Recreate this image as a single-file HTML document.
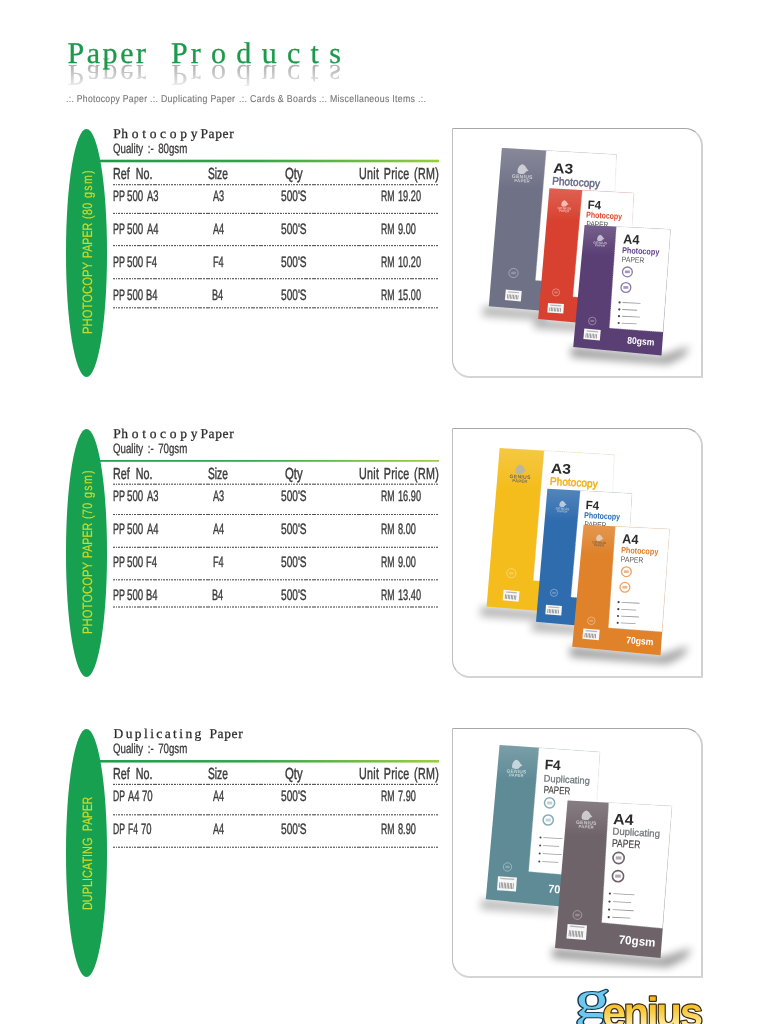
<!DOCTYPE html>
<html lang="en"><head><meta charset="utf-8"><title>Paper Products</title>
<style>
html,body{margin:0;padding:0;background:#fff}
body{width:768px;height:1024px;position:relative;overflow:hidden;font-family:"Liberation Sans",sans-serif;text-rendering:geometricPrecision}
.t{position:absolute;white-space:pre;line-height:1;transform-origin:0 0;-webkit-text-stroke:0.3px currentColor}
.ell{position:absolute;left:65.8px;width:41.6px;height:248px;border-radius:50%;background:#16a04f}
.v{position:absolute;width:0;height:0;font-size:13.5px;line-height:1;color:#cbdb2c;transform-origin:0 0;transform:rotate(-90deg);-webkit-text-stroke:0.2px currentColor}
.v span{position:absolute;top:0;white-space:pre;transform-origin:0 0}
.gl{position:absolute;left:100px;width:339.2px;height:2px;background:linear-gradient(90deg,#1b9b4c 0%,#2ea648 45%,#9ccb3b 100%)}
.dl{position:absolute;left:113px;width:326px;height:1px;background:repeating-linear-gradient(90deg,#555 0,#555 1.75px,transparent 1.75px,transparent 2.65px)}
.box{position:absolute;left:452px;width:248px;height:247px;border-style:solid;border-width:1px 2px 2px 1px;border-color:#a6a6a6 #d0d0d0 #d4d4d4 #bebebe;border-radius:0 18px 0 18px;background:#fff}
.art{position:absolute;left:0;top:0}
.fade{position:absolute;left:60px;top:64px;width:290px;height:28px;background:linear-gradient(180deg,rgba(255,255,255,.1) 0,rgba(255,255,255,.35) 30%,rgba(255,255,255,.72) 72%,rgba(255,255,255,.85) 100%)}
.f0::first-letter{letter-spacing:.6px}
.f2::first-letter{letter-spacing:3px}
.s{font-family:"Liberation Serif",serif}
</style></head><body>
<div aria-hidden="true" class="t s" style="left:67.40px;top:39.00px;font-size:30px;color:#a4a4a4;letter-spacing:2.600px;transform-origin:0 24.9px;transform:scaleY(-1);-webkit-text-stroke:0;">Paper</div>
<div aria-hidden="true" class="t f2 s" style="left:171.10px;top:39.00px;font-size:30px;color:#a4a4a4;letter-spacing:10.300px;transform-origin:0 24.9px;transform:scaleY(-1);-webkit-text-stroke:0;">Products</div>
<div class="fade"></div>
<div class="t s" style="left:67.40px;top:39.00px;font-size:30px;color:#1c9a4c;letter-spacing:2.600px;">Paper</div>
<div class="t f2 s" style="left:171.10px;top:39.00px;font-size:30px;color:#1c9a4c;letter-spacing:10.300px;">Products</div>
<div class="t" style="left:66.30px;top:95.00px;font-size:10px;color:#757575;letter-spacing:0.350px;transform:scaleX(0.8605);-webkit-text-stroke:0.12px currentColor;">.:. Photocopy Paper</div>
<div class="t" style="left:150.40px;top:95.00px;font-size:10px;color:#757575;letter-spacing:0.350px;transform:scaleX(0.8758);-webkit-text-stroke:0.12px currentColor;">.:. Duplicating Paper</div>
<div class="t" style="left:239.10px;top:95.00px;font-size:10px;color:#757575;letter-spacing:0.350px;transform:scaleX(0.8819);-webkit-text-stroke:0.12px currentColor;">.:. Cards &amp; Boards</div>
<div class="t" style="left:319.30px;top:95.00px;font-size:10px;color:#757575;letter-spacing:0.350px;transform:scaleX(0.8775);-webkit-text-stroke:0.12px currentColor;">.:. Miscellaneous Items .:.</div>
<div class="ell" style="top:128.7px"></div>
<div class="v" style="left:81.00px;top:333.3px"><span style="left:-0.84px;transform:scaleX(0.8369)">PHOTOCOPY</span><span style="left:74.81px;transform:scaleX(0.7863)">PAPER</span><span style="left:113.60px;letter-spacing:0.63px;transform:scaleX(0.7800)">(80</span><span style="left:134.70px;letter-spacing:1.79px;transform:scaleX(0.7800)">gsm)</span></div>
<div class="t f0 s" style="left:113.20px;top:127.00px;font-size:13.5px;color:#2a2a2a;letter-spacing:3.700px;-webkit-text-stroke:0.25px currentColor;">Photocopy</div>
<div class="t s" style="left:200.50px;top:127.00px;font-size:13.5px;color:#2a2a2a;letter-spacing:0.600px;-webkit-text-stroke:0.25px currentColor;">Paper</div>
<div class="t" style="left:113.20px;top:142.00px;font-size:13.5px;color:#3a3a3a;word-spacing:2.50px;transform:scaleX(0.7193);">Quality :- 80gsm</div>
<div class="gl" style="top:159px;height:1px;opacity:0.30"></div>
<div class="gl" style="top:160px;height:1px;opacity:1.00"></div>
<div class="gl" style="top:161px;height:1px;opacity:1.00"></div>
<div class="gl" style="top:162px;height:1px;opacity:0.30"></div>
<div class="t" style="left:112.60px;top:167.00px;font-size:16px;color:#3a3a3a;transform:scaleX(0.6714);-webkit-text-stroke:0.45px currentColor;">Ref  No.</div>
<div class="t" style="left:208.40px;top:167.00px;font-size:16px;color:#3a3a3a;transform:scaleX(0.6394);-webkit-text-stroke:0.45px currentColor;">Size</div>
<div class="t" style="left:284.70px;top:167.00px;font-size:16px;color:#3a3a3a;transform:scaleX(0.7071);-webkit-text-stroke:0.45px currentColor;">Qty</div>
<div class="t" style="left:359.00px;top:167.00px;font-size:16px;color:#3a3a3a;letter-spacing:0.400px;word-spacing:2.00px;transform:scaleX(0.6701);-webkit-text-stroke:0.45px currentColor;">Unit Price (RM)</div>
<div class="dl" style="top:184px;opacity:0.88"></div>
<div class="dl" style="top:185px;opacity:0.27"></div>
<div class="dl" style="top:212px;opacity:0.17"></div>
<div class="dl" style="top:213px;opacity:0.97"></div>
<div class="dl" style="top:245px;opacity:0.97"></div>
<div class="dl" style="top:246px;opacity:0.17"></div>
<div class="dl" style="top:278px;opacity:0.88"></div>
<div class="dl" style="top:279px;opacity:0.27"></div>
<div class="dl" style="top:307px;opacity:0.77"></div>
<div class="dl" style="top:308px;opacity:0.38"></div>
<div class="t" style="left:113.11px;top:189.00px;font-size:15px;color:#3a3a3a;transform:scaleX(0.5946);-webkit-text-stroke:0.4px currentColor;">PP</div>
<div class="t" style="left:126.80px;top:189.00px;font-size:15px;color:#3a3a3a;transform:scaleX(0.6482);-webkit-text-stroke:0.4px currentColor;">500</div>
<div class="t" style="left:146.60px;top:189.00px;font-size:15px;color:#3a3a3a;transform:scaleX(0.6250);-webkit-text-stroke:0.4px currentColor;">A3</div>
<div class="t" style="left:212.71px;top:189.00px;font-size:15px;color:#3a3a3a;transform:scaleX(0.6100);-webkit-text-stroke:0.4px currentColor;">A3</div>
<div class="t" style="left:281.40px;top:189.00px;font-size:15px;color:#3a3a3a;transform:scaleX(0.6756);-webkit-text-stroke:0.4px currentColor;">500'S</div>
<div class="t" style="left:380.72px;top:189.00px;font-size:15px;color:#3a3a3a;transform:scaleX(0.5771);-webkit-text-stroke:0.4px currentColor;">RM</div>
<div class="t" style="left:397.69px;top:189.00px;font-size:15px;color:#3a3a3a;transform:scaleX(0.6130);-webkit-text-stroke:0.4px currentColor;">19.20</div>
<div class="t" style="left:113.11px;top:222.00px;font-size:15px;color:#3a3a3a;transform:scaleX(0.5946);-webkit-text-stroke:0.4px currentColor;">PP</div>
<div class="t" style="left:126.80px;top:222.00px;font-size:15px;color:#3a3a3a;transform:scaleX(0.6482);-webkit-text-stroke:0.4px currentColor;">500</div>
<div class="t" style="left:146.60px;top:222.00px;font-size:15px;color:#3a3a3a;transform:scaleX(0.6250);-webkit-text-stroke:0.4px currentColor;">A4</div>
<div class="t" style="left:212.71px;top:222.00px;font-size:15px;color:#3a3a3a;transform:scaleX(0.6100);-webkit-text-stroke:0.4px currentColor;">A4</div>
<div class="t" style="left:281.40px;top:222.00px;font-size:15px;color:#3a3a3a;transform:scaleX(0.6756);-webkit-text-stroke:0.4px currentColor;">500'S</div>
<div class="t" style="left:380.72px;top:222.00px;font-size:15px;color:#3a3a3a;transform:scaleX(0.5771);-webkit-text-stroke:0.4px currentColor;">RM</div>
<div class="t" style="left:397.70px;top:222.00px;font-size:15px;color:#3a3a3a;transform:scaleX(0.6130);-webkit-text-stroke:0.4px currentColor;">9.00</div>
<div class="t" style="left:113.11px;top:255.00px;font-size:15px;color:#3a3a3a;transform:scaleX(0.5946);-webkit-text-stroke:0.4px currentColor;">PP</div>
<div class="t" style="left:126.80px;top:255.00px;font-size:15px;color:#3a3a3a;transform:scaleX(0.6482);-webkit-text-stroke:0.4px currentColor;">500</div>
<div class="t" style="left:145.97px;top:255.00px;font-size:15px;color:#3a3a3a;transform:scaleX(0.6250);-webkit-text-stroke:0.4px currentColor;">F4</div>
<div class="t" style="left:212.66px;top:255.00px;font-size:15px;color:#3a3a3a;transform:scaleX(0.6100);-webkit-text-stroke:0.4px currentColor;">F4</div>
<div class="t" style="left:281.40px;top:255.00px;font-size:15px;color:#3a3a3a;transform:scaleX(0.6756);-webkit-text-stroke:0.4px currentColor;">500'S</div>
<div class="t" style="left:380.72px;top:255.00px;font-size:15px;color:#3a3a3a;transform:scaleX(0.5771);-webkit-text-stroke:0.4px currentColor;">RM</div>
<div class="t" style="left:397.69px;top:255.00px;font-size:15px;color:#3a3a3a;transform:scaleX(0.6130);-webkit-text-stroke:0.4px currentColor;">10.20</div>
<div class="t" style="left:113.11px;top:288.00px;font-size:15px;color:#3a3a3a;transform:scaleX(0.5946);-webkit-text-stroke:0.4px currentColor;">PP</div>
<div class="t" style="left:126.80px;top:288.00px;font-size:15px;color:#3a3a3a;transform:scaleX(0.6482);-webkit-text-stroke:0.4px currentColor;">500</div>
<div class="t" style="left:145.97px;top:288.00px;font-size:15px;color:#3a3a3a;transform:scaleX(0.6250);-webkit-text-stroke:0.4px currentColor;">B4</div>
<div class="t" style="left:212.40px;top:288.00px;font-size:15px;color:#3a3a3a;transform:scaleX(0.6100);-webkit-text-stroke:0.4px currentColor;">B4</div>
<div class="t" style="left:281.40px;top:288.00px;font-size:15px;color:#3a3a3a;transform:scaleX(0.6756);-webkit-text-stroke:0.4px currentColor;">500'S</div>
<div class="t" style="left:380.72px;top:288.00px;font-size:15px;color:#3a3a3a;transform:scaleX(0.5771);-webkit-text-stroke:0.4px currentColor;">RM</div>
<div class="t" style="left:397.69px;top:288.00px;font-size:15px;color:#3a3a3a;transform:scaleX(0.6130);-webkit-text-stroke:0.4px currentColor;">15.00</div>
<div class="ell" style="top:428.7px"></div>
<div class="v" style="left:81.00px;top:633.3px"><span style="left:-0.84px;transform:scaleX(0.8369)">PHOTOCOPY</span><span style="left:74.81px;transform:scaleX(0.7863)">PAPER</span><span style="left:113.60px;letter-spacing:0.63px;transform:scaleX(0.7800)">(70</span><span style="left:134.70px;letter-spacing:1.79px;transform:scaleX(0.7800)">gsm)</span></div>
<div class="t f0 s" style="left:113.20px;top:427.00px;font-size:13.5px;color:#2a2a2a;letter-spacing:3.700px;-webkit-text-stroke:0.25px currentColor;">Photocopy</div>
<div class="t s" style="left:200.50px;top:427.00px;font-size:13.5px;color:#2a2a2a;letter-spacing:0.600px;-webkit-text-stroke:0.25px currentColor;">Paper</div>
<div class="t" style="left:113.20px;top:442.00px;font-size:13.5px;color:#3a3a3a;word-spacing:2.50px;transform:scaleX(0.7193);">Quality :- 70gsm</div>
<div class="gl" style="top:460px;height:1px;opacity:0.95"></div>
<div class="gl" style="top:461px;height:1px;opacity:0.75"></div>
<div class="t" style="left:112.60px;top:467.00px;font-size:16px;color:#3a3a3a;transform:scaleX(0.6714);-webkit-text-stroke:0.45px currentColor;">Ref  No.</div>
<div class="t" style="left:208.40px;top:467.00px;font-size:16px;color:#3a3a3a;transform:scaleX(0.6394);-webkit-text-stroke:0.45px currentColor;">Size</div>
<div class="t" style="left:284.70px;top:467.00px;font-size:16px;color:#3a3a3a;transform:scaleX(0.7071);-webkit-text-stroke:0.45px currentColor;">Qty</div>
<div class="t" style="left:359.00px;top:467.00px;font-size:16px;color:#3a3a3a;letter-spacing:0.400px;word-spacing:2.00px;transform:scaleX(0.6701);-webkit-text-stroke:0.45px currentColor;">Unit Price (RM)</div>
<div class="dl" style="top:483px;opacity:0.38"></div>
<div class="dl" style="top:484px;opacity:0.77"></div>
<div class="dl" style="top:514px;opacity:1.00"></div>
<div class="dl" style="top:546px;opacity:0.28"></div>
<div class="dl" style="top:547px;opacity:0.88"></div>
<div class="dl" style="top:579px;opacity:0.78"></div>
<div class="dl" style="top:580px;opacity:0.38"></div>
<div class="dl" style="top:606px;opacity:0.58"></div>
<div class="dl" style="top:607px;opacity:0.58"></div>
<div class="t" style="left:113.11px;top:489.00px;font-size:15px;color:#3a3a3a;transform:scaleX(0.5946);-webkit-text-stroke:0.4px currentColor;">PP</div>
<div class="t" style="left:126.80px;top:489.00px;font-size:15px;color:#3a3a3a;transform:scaleX(0.6482);-webkit-text-stroke:0.4px currentColor;">500</div>
<div class="t" style="left:146.60px;top:489.00px;font-size:15px;color:#3a3a3a;transform:scaleX(0.6250);-webkit-text-stroke:0.4px currentColor;">A3</div>
<div class="t" style="left:212.71px;top:489.00px;font-size:15px;color:#3a3a3a;transform:scaleX(0.6100);-webkit-text-stroke:0.4px currentColor;">A3</div>
<div class="t" style="left:281.40px;top:489.00px;font-size:15px;color:#3a3a3a;transform:scaleX(0.6756);-webkit-text-stroke:0.4px currentColor;">500'S</div>
<div class="t" style="left:380.72px;top:489.00px;font-size:15px;color:#3a3a3a;transform:scaleX(0.5771);-webkit-text-stroke:0.4px currentColor;">RM</div>
<div class="t" style="left:397.69px;top:489.00px;font-size:15px;color:#3a3a3a;transform:scaleX(0.6130);-webkit-text-stroke:0.4px currentColor;">16.90</div>
<div class="t" style="left:113.11px;top:522.00px;font-size:15px;color:#3a3a3a;transform:scaleX(0.5946);-webkit-text-stroke:0.4px currentColor;">PP</div>
<div class="t" style="left:126.80px;top:522.00px;font-size:15px;color:#3a3a3a;transform:scaleX(0.6482);-webkit-text-stroke:0.4px currentColor;">500</div>
<div class="t" style="left:146.60px;top:522.00px;font-size:15px;color:#3a3a3a;transform:scaleX(0.6250);-webkit-text-stroke:0.4px currentColor;">A4</div>
<div class="t" style="left:212.71px;top:522.00px;font-size:15px;color:#3a3a3a;transform:scaleX(0.6100);-webkit-text-stroke:0.4px currentColor;">A4</div>
<div class="t" style="left:281.40px;top:522.00px;font-size:15px;color:#3a3a3a;transform:scaleX(0.6756);-webkit-text-stroke:0.4px currentColor;">500'S</div>
<div class="t" style="left:380.72px;top:522.00px;font-size:15px;color:#3a3a3a;transform:scaleX(0.5771);-webkit-text-stroke:0.4px currentColor;">RM</div>
<div class="t" style="left:397.70px;top:522.00px;font-size:15px;color:#3a3a3a;transform:scaleX(0.6130);-webkit-text-stroke:0.4px currentColor;">8.00</div>
<div class="t" style="left:113.11px;top:555.00px;font-size:15px;color:#3a3a3a;transform:scaleX(0.5946);-webkit-text-stroke:0.4px currentColor;">PP</div>
<div class="t" style="left:126.80px;top:555.00px;font-size:15px;color:#3a3a3a;transform:scaleX(0.6482);-webkit-text-stroke:0.4px currentColor;">500</div>
<div class="t" style="left:145.97px;top:555.00px;font-size:15px;color:#3a3a3a;transform:scaleX(0.6250);-webkit-text-stroke:0.4px currentColor;">F4</div>
<div class="t" style="left:212.66px;top:555.00px;font-size:15px;color:#3a3a3a;transform:scaleX(0.6100);-webkit-text-stroke:0.4px currentColor;">F4</div>
<div class="t" style="left:281.40px;top:555.00px;font-size:15px;color:#3a3a3a;transform:scaleX(0.6756);-webkit-text-stroke:0.4px currentColor;">500'S</div>
<div class="t" style="left:380.72px;top:555.00px;font-size:15px;color:#3a3a3a;transform:scaleX(0.5771);-webkit-text-stroke:0.4px currentColor;">RM</div>
<div class="t" style="left:397.70px;top:555.00px;font-size:15px;color:#3a3a3a;transform:scaleX(0.6130);-webkit-text-stroke:0.4px currentColor;">9.00</div>
<div class="t" style="left:113.11px;top:588.00px;font-size:15px;color:#3a3a3a;transform:scaleX(0.5946);-webkit-text-stroke:0.4px currentColor;">PP</div>
<div class="t" style="left:126.80px;top:588.00px;font-size:15px;color:#3a3a3a;transform:scaleX(0.6482);-webkit-text-stroke:0.4px currentColor;">500</div>
<div class="t" style="left:145.97px;top:588.00px;font-size:15px;color:#3a3a3a;transform:scaleX(0.6250);-webkit-text-stroke:0.4px currentColor;">B4</div>
<div class="t" style="left:212.40px;top:588.00px;font-size:15px;color:#3a3a3a;transform:scaleX(0.6100);-webkit-text-stroke:0.4px currentColor;">B4</div>
<div class="t" style="left:281.40px;top:588.00px;font-size:15px;color:#3a3a3a;transform:scaleX(0.6756);-webkit-text-stroke:0.4px currentColor;">500'S</div>
<div class="t" style="left:380.72px;top:588.00px;font-size:15px;color:#3a3a3a;transform:scaleX(0.5771);-webkit-text-stroke:0.4px currentColor;">RM</div>
<div class="t" style="left:397.69px;top:588.00px;font-size:15px;color:#3a3a3a;transform:scaleX(0.6130);-webkit-text-stroke:0.4px currentColor;">13.40</div>
<div class="ell" style="top:728.7px"></div>
<div class="v" style="left:81.00px;top:908.7px"><span style="left:-0.81px;transform:scaleX(0.8065)">DUPLICATING</span><span style="left:77.53px;transform:scaleX(0.7662)">PAPER</span></div>
<div class="t s" style="left:113.50px;top:727.00px;font-size:13.5px;color:#2a2a2a;letter-spacing:2.410px;-webkit-text-stroke:0.25px currentColor;">Duplicating</div>
<div class="t s" style="left:209.50px;top:727.00px;font-size:13.5px;color:#2a2a2a;letter-spacing:0.600px;-webkit-text-stroke:0.25px currentColor;">Paper</div>
<div class="t" style="left:113.20px;top:742.00px;font-size:13.5px;color:#3a3a3a;word-spacing:2.50px;transform:scaleX(0.7193);">Quality :- 70gsm</div>
<div class="gl" style="top:760px;height:1px;opacity:0.95"></div>
<div class="gl" style="top:761px;height:1px;opacity:1.00"></div>
<div class="gl" style="top:762px;height:1px;opacity:0.55"></div>
<div class="t" style="left:112.60px;top:767.00px;font-size:16px;color:#3a3a3a;transform:scaleX(0.6714);-webkit-text-stroke:0.45px currentColor;">Ref  No.</div>
<div class="t" style="left:208.40px;top:767.00px;font-size:16px;color:#3a3a3a;transform:scaleX(0.6394);-webkit-text-stroke:0.45px currentColor;">Size</div>
<div class="t" style="left:284.70px;top:767.00px;font-size:16px;color:#3a3a3a;transform:scaleX(0.7071);-webkit-text-stroke:0.45px currentColor;">Qty</div>
<div class="t" style="left:359.00px;top:767.00px;font-size:16px;color:#3a3a3a;letter-spacing:0.400px;word-spacing:2.00px;transform:scaleX(0.6701);-webkit-text-stroke:0.45px currentColor;">Unit Price (RM)</div>
<div class="dl" style="top:783px;opacity:0.18"></div>
<div class="dl" style="top:784px;opacity:0.98"></div>
<div class="dl" style="top:814px;opacity:0.78"></div>
<div class="dl" style="top:815px;opacity:0.38"></div>
<div class="dl" style="top:846px;opacity:0.33"></div>
<div class="dl" style="top:847px;opacity:0.83"></div>
<div class="t" style="left:113.13px;top:789.00px;font-size:15px;color:#3a3a3a;transform:scaleX(0.5748);-webkit-text-stroke:0.4px currentColor;">DP</div>
<div class="t" style="left:127.80px;top:789.00px;font-size:15px;color:#3a3a3a;transform:scaleX(0.6221);-webkit-text-stroke:0.4px currentColor;">A4</div>
<div class="t" style="left:142.40px;top:789.00px;font-size:15px;color:#3a3a3a;transform:scaleX(0.6425);-webkit-text-stroke:0.4px currentColor;">70</div>
<div class="t" style="left:212.71px;top:789.00px;font-size:15px;color:#3a3a3a;transform:scaleX(0.6100);-webkit-text-stroke:0.4px currentColor;">A4</div>
<div class="t" style="left:281.40px;top:789.00px;font-size:15px;color:#3a3a3a;transform:scaleX(0.6756);-webkit-text-stroke:0.4px currentColor;">500'S</div>
<div class="t" style="left:380.72px;top:789.00px;font-size:15px;color:#3a3a3a;transform:scaleX(0.5771);-webkit-text-stroke:0.4px currentColor;">RM</div>
<div class="t" style="left:397.70px;top:789.00px;font-size:15px;color:#3a3a3a;transform:scaleX(0.6130);-webkit-text-stroke:0.4px currentColor;">7.90</div>
<div class="t" style="left:113.13px;top:822.00px;font-size:15px;color:#3a3a3a;transform:scaleX(0.5748);-webkit-text-stroke:0.4px currentColor;">DP</div>
<div class="t" style="left:127.53px;top:822.00px;font-size:15px;color:#3a3a3a;transform:scaleX(0.5692);-webkit-text-stroke:0.4px currentColor;">F4</div>
<div class="t" style="left:141.10px;top:822.00px;font-size:15px;color:#3a3a3a;transform:scaleX(0.6303);-webkit-text-stroke:0.4px currentColor;">70</div>
<div class="t" style="left:212.71px;top:822.00px;font-size:15px;color:#3a3a3a;transform:scaleX(0.6100);-webkit-text-stroke:0.4px currentColor;">A4</div>
<div class="t" style="left:281.40px;top:822.00px;font-size:15px;color:#3a3a3a;transform:scaleX(0.6756);-webkit-text-stroke:0.4px currentColor;">500'S</div>
<div class="t" style="left:380.72px;top:822.00px;font-size:15px;color:#3a3a3a;transform:scaleX(0.5771);-webkit-text-stroke:0.4px currentColor;">RM</div>
<div class="t" style="left:397.70px;top:822.00px;font-size:15px;color:#3a3a3a;transform:scaleX(0.6130);-webkit-text-stroke:0.4px currentColor;">8.90</div>
<div class="box" style="top:128px"></div>
<div class="box" style="top:428px"></div>
<div class="box" style="top:728px"></div>
<svg class="art" width="768" height="1024" viewBox="0 0 768 1024" font-family="Liberation Sans, sans-serif"><defs><filter id="b3" x="-30%" y="-100%" width="160%" height="300%"><feGaussianBlur stdDeviation="4"/></filter><linearGradient id="sheen" x1="0" y1="0" x2="0" y2="1"><stop offset="0" stop-color="#fff" stop-opacity=".17"/><stop offset=".22" stop-color="#fff" stop-opacity=".08"/><stop offset=".4" stop-color="#fff" stop-opacity="0"/><stop offset="1" stop-color="#fff" stop-opacity="0"/></linearGradient></defs><g transform="translate(0,0)"><g transform="translate(0.0,0.0)"><polygon points="484.0,306.0 545.0,311.0 546.0,320.0 482.0,316.0" fill="#000" opacity="0.30" filter="url(#b3)"/></g><g transform="translate(0.0,0.0)"><polygon points="536.0,319.0 580.0,323.0 582.0,331.0 533.0,328.0" fill="#000" opacity="0.32" filter="url(#b3)"/></g><g transform="translate(0.0,0.0)"><polygon points="571.0,347.0 662.0,356.0 690.0,346.0 684.0,356.0 668.0,364.0 571.0,357.0" fill="#000" opacity="0.40" filter="url(#b3)"/></g><g transform="translate(0.0,0.0)"><polygon points="501.9,147.9 616.5,154.6 606.0,316.4 488.8,306.2" fill="#6f7186"/><polygon points="501.9,147.9 546.3,150.2 538.0,250.0 493.4,250.0" fill="url(#sheen)"/><polygon points="546.3,150.4 616.5,154.6 611.0,287.0 535.5,280.3" fill="#fff" stroke="#d9d9d9" stroke-width="0.6" stroke-dasharray="1.2 1"/><g transform="translate(522.2,173.9) rotate(3.0) scale(1.00)" opacity="0.62"><path d="M-4.6,-1.2 C-5.4,-4.5 -3.6,-8.6 -0.6,-9.6 C1.6,-9.2 3.2,-7.4 4.2,-5.6 L6.2,-3.6 L3.6,-2.6 C3.2,-1.2 2.2,-0.2 0.6,0 C-1.4,0.4 -3.4,0 -4.6,-1.2Z" fill="#fff"/><text x="0.3" y="4.4" font-size="5" font-weight="bold" text-anchor="middle" letter-spacing="0.3" fill="#fff">GENIUS</text><text x="0.3" y="8.4" font-size="4.3" font-weight="bold" text-anchor="middle" letter-spacing="0.2" fill="#fff">PAPER</text></g><text transform="translate(552.9,172.7) rotate(3.3)" font-size="14.0" font-weight="bold" fill="#2b2b2b" textLength="20.0" lengthAdjust="spacingAndGlyphs">A3</text><text transform="translate(552.0,184.6) rotate(3.3)" font-size="11.0" font-weight="normal" fill="#6a6c8c" textLength="47.8" lengthAdjust="spacingAndGlyphs" stroke="#6a6c8c" stroke-width="0.50">Photocopy</text><circle cx="513.5" cy="273.0" r="4.6" fill="none" stroke="rgba(255,255,255,.45)" stroke-width="0.8" opacity="1.00"/><rect x="511.2" y="271.7" width="4.6" height="2.6" fill="rgba(255,255,255,.45)" opacity=".55"/><g transform="translate(505.8,289.6) rotate(5.0)"><rect x="0" y="0" width="16.0" height="10.5" fill="#f7f7f7"/><rect x="2.5" y="1.4" width="11.0" height="1.2" fill="#b5b5b5"/><rect x="2.00" y="4.4" width="0.6" height="4.4" fill="#6a6a6a"/><rect x="3.50" y="4.4" width="0.6" height="4.4" fill="#6a6a6a"/><rect x="5.00" y="4.4" width="0.6" height="4.4" fill="#6a6a6a"/><rect x="6.50" y="4.4" width="0.6" height="4.4" fill="#6a6a6a"/><rect x="8.00" y="4.4" width="0.6" height="4.4" fill="#6a6a6a"/><rect x="9.50" y="4.4" width="0.6" height="4.4" fill="#6a6a6a"/><rect x="11.00" y="4.4" width="0.6" height="4.4" fill="#6a6a6a"/><rect x="12.50" y="4.4" width="0.6" height="4.4" fill="#6a6a6a"/></g></g><g transform="translate(0.0,0.0)"><polygon points="549.4,188.3 634.0,193.0 625.0,327.0 538.2,318.9" fill="#d8412f"/><polygon points="549.4,188.3 582.0,190.2 575.0,270.0 542.0,270.0" fill="url(#sheen)"/><polygon points="582.3,190.2 634.0,193.0 628.0,301.0 573.0,296.7" fill="#fff" stroke="#d9d9d9" stroke-width="0.6" stroke-dasharray="1.2 1"/><g transform="translate(564.4,206.6) rotate(3.0) scale(0.66)" opacity="0.62"><path d="M-4.6,-1.2 C-5.4,-4.5 -3.6,-8.6 -0.6,-9.6 C1.6,-9.2 3.2,-7.4 4.2,-5.6 L6.2,-3.6 L3.6,-2.6 C3.2,-1.2 2.2,-0.2 0.6,0 C-1.4,0.4 -3.4,0 -4.6,-1.2Z" fill="#fff"/><text x="0.3" y="4.4" font-size="5" font-weight="bold" text-anchor="middle" letter-spacing="0.3" fill="#fff">GENIUS</text><text x="0.3" y="8.4" font-size="4.3" font-weight="bold" text-anchor="middle" letter-spacing="0.2" fill="#fff">PAPER</text></g><text transform="translate(587.4,208.7) rotate(3.0)" font-size="12.0" font-weight="bold" fill="#2b2b2b" textLength="13.4" lengthAdjust="spacingAndGlyphs">F4</text><text transform="translate(586.0,217.5) rotate(3.0)" font-size="8.5" font-weight="bold" fill="#e04a26" textLength="36.0" lengthAdjust="spacingAndGlyphs">Photocopy</text><text transform="translate(586.2,226.4) rotate(3.0)" font-size="7.9" font-weight="normal" fill="#555" textLength="22.2" lengthAdjust="spacingAndGlyphs">PAPER</text><circle cx="556.0" cy="292.4" r="3.6" fill="none" stroke="rgba(255,255,255,.5)" stroke-width="0.7" opacity="1.00"/><rect x="554.2" y="291.4" width="3.6" height="2.0" fill="rgba(255,255,255,.5)" opacity=".55"/><g transform="translate(548.0,303.0) rotate(4.0)"><rect x="0" y="0" width="16.0" height="9.5" fill="#f7f7f7"/><rect x="2.5" y="1.4" width="11.0" height="1.2" fill="#b5b5b5"/><rect x="2.00" y="4.0" width="0.6" height="4.0" fill="#6a6a6a"/><rect x="3.50" y="4.0" width="0.6" height="4.0" fill="#6a6a6a"/><rect x="5.00" y="4.0" width="0.6" height="4.0" fill="#6a6a6a"/><rect x="6.50" y="4.0" width="0.6" height="4.0" fill="#6a6a6a"/><rect x="8.00" y="4.0" width="0.6" height="4.0" fill="#6a6a6a"/><rect x="9.50" y="4.0" width="0.6" height="4.0" fill="#6a6a6a"/><rect x="11.00" y="4.0" width="0.6" height="4.0" fill="#6a6a6a"/><rect x="12.50" y="4.0" width="0.6" height="4.0" fill="#6a6a6a"/></g></g><g transform="translate(0.0,0.0)"><polygon points="584.6,225.0 670.6,229.3 661.5,355.5 573.2,347.0" fill="#5a3f74"/><polygon points="584.6,225.0 616.0,226.6 611.0,300.0 578.0,300.0" fill="url(#sheen)"/><polygon points="616.4,226.6 670.6,229.3 663.0,332.0 609.5,328.0" fill="#fff" stroke="#d9d9d9" stroke-width="0.6" stroke-dasharray="1.2 1"/><g transform="translate(600.2,241.1) rotate(3.0) scale(0.66)" opacity="0.62"><path d="M-4.6,-1.2 C-5.4,-4.5 -3.6,-8.6 -0.6,-9.6 C1.6,-9.2 3.2,-7.4 4.2,-5.6 L6.2,-3.6 L3.6,-2.6 C3.2,-1.2 2.2,-0.2 0.6,0 C-1.4,0.4 -3.4,0 -4.6,-1.2Z" fill="#fff"/><text x="0.3" y="4.4" font-size="5" font-weight="bold" text-anchor="middle" letter-spacing="0.3" fill="#fff">GENIUS</text><text x="0.3" y="8.4" font-size="4.3" font-weight="bold" text-anchor="middle" letter-spacing="0.2" fill="#fff">PAPER</text></g><text transform="translate(623.0,243.4) rotate(3.0)" font-size="13.3" font-weight="bold" fill="#2b2b2b" textLength="16.2" lengthAdjust="spacingAndGlyphs">A4</text><text transform="translate(622.0,252.9) rotate(3.0)" font-size="8.6" font-weight="bold" fill="#5a3f8a" textLength="37.2" lengthAdjust="spacingAndGlyphs">Photocopy</text><text transform="translate(621.6,261.9) rotate(3.0)" font-size="7.8" font-weight="normal" fill="#555" textLength="22.6" lengthAdjust="spacingAndGlyphs">PAPER</text><circle cx="627.4" cy="271.9" r="4.9" fill="none" stroke="#5a3f8a" stroke-width="1.3" opacity="0.70"/><rect x="624.9" y="270.5" width="4.9" height="2.7" fill="#5a3f8a" opacity=".55"/><circle cx="625.9" cy="287.5" r="4.9" fill="none" stroke="#5a3f8a" stroke-width="1.3" opacity="0.70"/><rect x="623.4" y="286.1" width="4.9" height="2.7" fill="#5a3f8a" opacity=".55"/><circle cx="619.6" cy="302.4" r="1.1" fill="#444"/><rect x="622.5" y="302.1" width="18.0" height="0.8" fill="#9a9a9a" transform="rotate(3 622.5 302.4)"/><circle cx="619.3" cy="309.4" r="1.1" fill="#444"/><rect x="622.2" y="309.1" width="15.0" height="0.8" fill="#9a9a9a" transform="rotate(3 622.5 309.4)"/><circle cx="619.0" cy="316.2" r="1.1" fill="#444"/><rect x="621.9" y="315.9" width="18.0" height="0.8" fill="#9a9a9a" transform="rotate(3 622.5 316.2)"/><circle cx="618.7" cy="323.0" r="1.1" fill="#444"/><rect x="621.6" y="322.7" width="15.0" height="0.8" fill="#9a9a9a" transform="rotate(3 622.5 323.0)"/><circle cx="592.3" cy="321.0" r="3.8" fill="none" stroke="rgba(255,255,255,.5)" stroke-width="0.7" opacity="1.00"/><rect x="590.4" y="319.9" width="3.8" height="2.1" fill="rgba(255,255,255,.5)" opacity=".55"/><g transform="translate(584.3,328.6) rotate(5.0)"><rect x="0" y="0" width="16.5" height="10.5" fill="#f7f7f7"/><rect x="2.5" y="1.4" width="11.5" height="1.2" fill="#b5b5b5"/><rect x="2.00" y="4.4" width="0.6" height="4.4" fill="#6a6a6a"/><rect x="3.50" y="4.4" width="0.6" height="4.4" fill="#6a6a6a"/><rect x="5.00" y="4.4" width="0.6" height="4.4" fill="#6a6a6a"/><rect x="6.50" y="4.4" width="0.6" height="4.4" fill="#6a6a6a"/><rect x="8.00" y="4.4" width="0.6" height="4.4" fill="#6a6a6a"/><rect x="9.50" y="4.4" width="0.6" height="4.4" fill="#6a6a6a"/><rect x="11.00" y="4.4" width="0.6" height="4.4" fill="#6a6a6a"/><rect x="12.50" y="4.4" width="0.6" height="4.4" fill="#6a6a6a"/></g><text transform="translate(627.0,343.4) rotate(4.5) scale(0.900,1)" font-size="9.6" font-weight="bold" fill="#fff">80gsm</text></g></g><g transform="translate(0,300)"><g transform="translate(-2.2,0.2)"><polygon points="484.0,306.0 545.0,311.0 546.0,320.0 482.0,316.0" fill="#000" opacity="0.30" filter="url(#b3)"/></g><g transform="translate(-2.0,0.4)"><polygon points="536.0,321.4 580.0,325.4 582.0,333.4 533.0,330.4" fill="#000" opacity="0.32" filter="url(#b3)"/></g><g transform="translate(-1.0,-0.2)"><polygon points="571.0,347.0 662.0,356.0 690.0,346.0 684.0,356.0 668.0,364.0 571.0,357.0" fill="#000" opacity="0.40" filter="url(#b3)"/></g><g transform="translate(-2.2,0.2)"><polygon points="501.9,147.9 616.5,154.6 606.0,316.4 488.8,306.2" fill="#f4bd1c"/><polygon points="501.9,147.9 546.3,150.2 538.0,250.0 493.4,250.0" fill="url(#sheen)"/><polygon points="546.3,150.4 616.5,154.6 611.0,287.0 535.5,280.3" fill="#fff" stroke="#d9d9d9" stroke-width="0.6" stroke-dasharray="1.2 1"/><g transform="translate(522.2,173.9) rotate(3.0) scale(1.00)" opacity="0.95"><path d="M-4.6,-1.2 C-5.4,-4.5 -3.6,-8.6 -0.6,-9.6 C1.6,-9.2 3.2,-7.4 4.2,-5.6 L6.2,-3.6 L3.6,-2.6 C3.2,-1.2 2.2,-0.2 0.6,0 C-1.4,0.4 -3.4,0 -4.6,-1.2Z" fill="#b9b5a8"/><text x="0.3" y="4.4" font-size="5" font-weight="bold" text-anchor="middle" letter-spacing="0.3" fill="#6b665a">GENIUS</text><text x="0.3" y="8.4" font-size="4.3" font-weight="bold" text-anchor="middle" letter-spacing="0.2" fill="#6b665a">PAPER</text></g><text transform="translate(552.9,172.7) rotate(3.3)" font-size="14.0" font-weight="bold" fill="#2b2b2b" textLength="20.0" lengthAdjust="spacingAndGlyphs">A3</text><text transform="translate(552.0,184.6) rotate(3.3)" font-size="11.0" font-weight="normal" fill="#f0b21a" textLength="47.8" lengthAdjust="spacingAndGlyphs" stroke="#f0b21a" stroke-width="0.50">Photocopy</text><circle cx="513.5" cy="273.0" r="4.6" fill="none" stroke="rgba(255,255,255,.45)" stroke-width="0.8" opacity="1.00"/><rect x="511.2" y="271.7" width="4.6" height="2.6" fill="rgba(255,255,255,.45)" opacity=".55"/><g transform="translate(505.8,289.6) rotate(5.0)"><rect x="0" y="0" width="16.0" height="10.5" fill="#f7f7f7"/><rect x="2.5" y="1.4" width="11.0" height="1.2" fill="#b5b5b5"/><rect x="2.00" y="4.4" width="0.6" height="4.4" fill="#6a6a6a"/><rect x="3.50" y="4.4" width="0.6" height="4.4" fill="#6a6a6a"/><rect x="5.00" y="4.4" width="0.6" height="4.4" fill="#6a6a6a"/><rect x="6.50" y="4.4" width="0.6" height="4.4" fill="#6a6a6a"/><rect x="8.00" y="4.4" width="0.6" height="4.4" fill="#6a6a6a"/><rect x="9.50" y="4.4" width="0.6" height="4.4" fill="#6a6a6a"/><rect x="11.00" y="4.4" width="0.6" height="4.4" fill="#6a6a6a"/><rect x="12.50" y="4.4" width="0.6" height="4.4" fill="#6a6a6a"/></g></g><g transform="translate(-2.0,0.4)"><polygon points="549.4,188.3 634.0,193.0 625.0,329.4 538.0,321.3" fill="#2f6cae"/><polygon points="549.4,188.3 582.0,190.2 575.0,270.0 542.0,270.0" fill="url(#sheen)"/><polygon points="582.3,190.2 634.0,193.0 628.0,301.0 573.0,296.7" fill="#fff" stroke="#d9d9d9" stroke-width="0.6" stroke-dasharray="1.2 1"/><g transform="translate(564.4,206.6) rotate(3.0) scale(0.66)" opacity="0.80"><path d="M-4.6,-1.2 C-5.4,-4.5 -3.6,-8.6 -0.6,-9.6 C1.6,-9.2 3.2,-7.4 4.2,-5.6 L6.2,-3.6 L3.6,-2.6 C3.2,-1.2 2.2,-0.2 0.6,0 C-1.4,0.4 -3.4,0 -4.6,-1.2Z" fill="#d8dde6"/><text x="0.3" y="4.4" font-size="5" font-weight="bold" text-anchor="middle" letter-spacing="0.3" fill="#c9d3e2">GENIUS</text><text x="0.3" y="8.4" font-size="4.3" font-weight="bold" text-anchor="middle" letter-spacing="0.2" fill="#c9d3e2">PAPER</text></g><text transform="translate(587.4,208.7) rotate(3.0)" font-size="12.0" font-weight="bold" fill="#2b2b2b" textLength="13.4" lengthAdjust="spacingAndGlyphs">F4</text><text transform="translate(586.0,217.5) rotate(3.0)" font-size="8.5" font-weight="bold" fill="#2a6cb4" textLength="36.0" lengthAdjust="spacingAndGlyphs">Photocopy</text><text transform="translate(586.2,226.4) rotate(3.0)" font-size="7.9" font-weight="normal" fill="#555" textLength="22.2" lengthAdjust="spacingAndGlyphs">PAPER</text><circle cx="556.0" cy="292.4" r="3.6" fill="none" stroke="rgba(255,255,255,.5)" stroke-width="0.7" opacity="1.00"/><rect x="554.2" y="291.4" width="3.6" height="2.0" fill="rgba(255,255,255,.5)" opacity=".55"/><g transform="translate(548.0,304.4) rotate(4.0)"><rect x="0" y="0" width="16.0" height="9.5" fill="#f7f7f7"/><rect x="2.5" y="1.4" width="11.0" height="1.2" fill="#b5b5b5"/><rect x="2.00" y="4.0" width="0.6" height="4.0" fill="#6a6a6a"/><rect x="3.50" y="4.0" width="0.6" height="4.0" fill="#6a6a6a"/><rect x="5.00" y="4.0" width="0.6" height="4.0" fill="#6a6a6a"/><rect x="6.50" y="4.0" width="0.6" height="4.0" fill="#6a6a6a"/><rect x="8.00" y="4.0" width="0.6" height="4.0" fill="#6a6a6a"/><rect x="9.50" y="4.0" width="0.6" height="4.0" fill="#6a6a6a"/><rect x="11.00" y="4.0" width="0.6" height="4.0" fill="#6a6a6a"/><rect x="12.50" y="4.0" width="0.6" height="4.0" fill="#6a6a6a"/></g></g><g transform="translate(-1.0,-0.2)"><polygon points="584.6,225.0 670.6,229.3 661.5,355.5 573.2,347.0" fill="#df822a"/><polygon points="584.6,225.0 616.0,226.6 611.0,300.0 578.0,300.0" fill="url(#sheen)"/><polygon points="616.4,226.6 670.6,229.3 663.0,332.0 609.5,328.0" fill="#fff" stroke="#d9d9d9" stroke-width="0.6" stroke-dasharray="1.2 1"/><g transform="translate(600.2,241.1) rotate(3.0) scale(0.66)" opacity="0.90"><path d="M-4.6,-1.2 C-5.4,-4.5 -3.6,-8.6 -0.6,-9.6 C1.6,-9.2 3.2,-7.4 4.2,-5.6 L6.2,-3.6 L3.6,-2.6 C3.2,-1.2 2.2,-0.2 0.6,0 C-1.4,0.4 -3.4,0 -4.6,-1.2Z" fill="#ddd3c8"/><text x="0.3" y="4.4" font-size="5" font-weight="bold" text-anchor="middle" letter-spacing="0.3" fill="#6e5a48">GENIUS</text><text x="0.3" y="8.4" font-size="4.3" font-weight="bold" text-anchor="middle" letter-spacing="0.2" fill="#6e5a48">PAPER</text></g><text transform="translate(623.0,243.4) rotate(3.0)" font-size="13.3" font-weight="bold" fill="#2b2b2b" textLength="16.2" lengthAdjust="spacingAndGlyphs">A4</text><text transform="translate(622.0,252.9) rotate(3.0)" font-size="8.6" font-weight="bold" fill="#e07b22" textLength="37.2" lengthAdjust="spacingAndGlyphs">Photocopy</text><text transform="translate(621.6,261.9) rotate(3.0)" font-size="7.8" font-weight="normal" fill="#555" textLength="22.6" lengthAdjust="spacingAndGlyphs">PAPER</text><circle cx="627.4" cy="271.9" r="4.9" fill="none" stroke="#e07b22" stroke-width="1.3" opacity="0.70"/><rect x="624.9" y="270.5" width="4.9" height="2.7" fill="#e07b22" opacity=".55"/><circle cx="625.9" cy="287.5" r="4.9" fill="none" stroke="#e07b22" stroke-width="1.3" opacity="0.70"/><rect x="623.4" y="286.1" width="4.9" height="2.7" fill="#e07b22" opacity=".55"/><circle cx="619.6" cy="302.4" r="1.1" fill="#444"/><rect x="622.5" y="302.1" width="18.0" height="0.8" fill="#9a9a9a" transform="rotate(3 622.5 302.4)"/><circle cx="619.3" cy="309.4" r="1.1" fill="#444"/><rect x="622.2" y="309.1" width="15.0" height="0.8" fill="#9a9a9a" transform="rotate(3 622.5 309.4)"/><circle cx="619.0" cy="316.2" r="1.1" fill="#444"/><rect x="621.9" y="315.9" width="18.0" height="0.8" fill="#9a9a9a" transform="rotate(3 622.5 316.2)"/><circle cx="618.7" cy="323.0" r="1.1" fill="#444"/><rect x="621.6" y="322.7" width="15.0" height="0.8" fill="#9a9a9a" transform="rotate(3 622.5 323.0)"/><circle cx="592.3" cy="321.0" r="3.8" fill="none" stroke="rgba(255,255,255,.5)" stroke-width="0.7" opacity="1.00"/><rect x="590.4" y="319.9" width="3.8" height="2.1" fill="rgba(255,255,255,.5)" opacity=".55"/><g transform="translate(584.3,328.6) rotate(5.0)"><rect x="0" y="0" width="16.5" height="10.5" fill="#f7f7f7"/><rect x="2.5" y="1.4" width="11.5" height="1.2" fill="#b5b5b5"/><rect x="2.00" y="4.4" width="0.6" height="4.4" fill="#6a6a6a"/><rect x="3.50" y="4.4" width="0.6" height="4.4" fill="#6a6a6a"/><rect x="5.00" y="4.4" width="0.6" height="4.4" fill="#6a6a6a"/><rect x="6.50" y="4.4" width="0.6" height="4.4" fill="#6a6a6a"/><rect x="8.00" y="4.4" width="0.6" height="4.4" fill="#6a6a6a"/><rect x="9.50" y="4.4" width="0.6" height="4.4" fill="#6a6a6a"/><rect x="11.00" y="4.4" width="0.6" height="4.4" fill="#6a6a6a"/><rect x="12.50" y="4.4" width="0.6" height="4.4" fill="#6a6a6a"/></g><text transform="translate(627.0,343.4) rotate(4.5) scale(0.900,1)" font-size="9.6" font-weight="bold" fill="#fff">70gsm</text></g></g><g transform="translate(0,600)"><polygon points="482.0,299.0 558.0,306.0 558.0,314.0 480.0,309.0" fill="#000" opacity="0.28" filter="url(#b3)"/><polygon points="553.0,348.0 661.0,358.0 692.0,348.0 686.0,358.0 668.0,367.0 552.0,358.0" fill="#000" opacity="0.40" filter="url(#b3)"/><polygon points="499.6,144.9 600.0,152.0 588.0,309.0 485.8,299.3" fill="#5f8b97"/><polygon points="499.6,144.9 539.2,147.6 533.0,230.0 492.0,230.0" fill="url(#sheen)"/><polygon points="539.0,147.7 600.0,152.0 592.0,277.0 528.7,271.5" fill="#fff" stroke="#d9d9d9" stroke-width="0.6" stroke-dasharray="1.2 1"/><g transform="translate(516.4,168.9) rotate(3.0) scale(0.94)" opacity="0.62"><path d="M-4.6,-1.2 C-5.4,-4.5 -3.6,-8.6 -0.6,-9.6 C1.6,-9.2 3.2,-7.4 4.2,-5.6 L6.2,-3.6 L3.6,-2.6 C3.2,-1.2 2.2,-0.2 0.6,0 C-1.4,0.4 -3.4,0 -4.6,-1.2Z" fill="#ffffff"/><text x="0.3" y="4.4" font-size="5" font-weight="bold" text-anchor="middle" letter-spacing="0.3" fill="#ffffff">GENIUS</text><text x="0.3" y="8.4" font-size="4.3" font-weight="bold" text-anchor="middle" letter-spacing="0.2" fill="#ffffff">PAPER</text></g><text transform="translate(544.5,169.3) rotate(3.3)" font-size="14.0" font-weight="bold" fill="#2b2b2b" textLength="16.0" lengthAdjust="spacingAndGlyphs">F4</text><text transform="translate(543.5,181.5) rotate(3.3)" font-size="9.6" font-weight="normal" fill="#727d80" textLength="46.2" lengthAdjust="spacingAndGlyphs" stroke="#727d80" stroke-width="0.30">Duplicating</text><text transform="translate(543.4,193.0) rotate(3.3)" font-size="10.4" font-weight="normal" fill="#444" textLength="26.8" lengthAdjust="spacingAndGlyphs" stroke="#444" stroke-width="0.15">PAPER</text><circle cx="549.6" cy="202.9" r="5.1" fill="none" stroke="#86adb9" stroke-width="1.5" opacity="1.00"/><rect x="547.1" y="201.5" width="5.1" height="2.9" fill="#86adb9" opacity=".55"/><circle cx="548.2" cy="220.0" r="5.1" fill="none" stroke="#86adb9" stroke-width="1.5" opacity="1.00"/><rect x="545.7" y="218.6" width="5.1" height="2.9" fill="#86adb9" opacity=".55"/><circle cx="540.5" cy="237.5" r="1" fill="#444"/><rect x="543.5" y="237.2" width="19.0" height="0.8" fill="#999" transform="rotate(3 543.5 237.5)"/><circle cx="540.1" cy="245.5" r="1" fill="#444"/><rect x="543.1" y="245.2" width="16.0" height="0.8" fill="#999" transform="rotate(3 543.5 245.5)"/><circle cx="539.7" cy="253.5" r="1" fill="#444"/><rect x="542.7" y="253.2" width="19.0" height="0.8" fill="#999" transform="rotate(3 543.5 253.5)"/><circle cx="539.3" cy="261.5" r="1" fill="#444"/><rect x="542.3" y="261.2" width="16.0" height="0.8" fill="#999" transform="rotate(3 543.5 261.5)"/><circle cx="507.5" cy="267.0" r="4.2" fill="none" stroke="rgba(255,255,255,.5)" stroke-width="0.7" opacity="1.00"/><rect x="505.4" y="265.8" width="4.2" height="2.4" fill="rgba(255,255,255,.5)" opacity=".55"/><g transform="translate(498.0,276.2) rotate(4.0)"><rect x="0" y="0" width="19.0" height="14.0" fill="#f7f7f7"/><rect x="2.5" y="1.4" width="14.0" height="1.2" fill="#b5b5b5"/><rect x="2.00" y="5.9" width="0.6" height="5.9" fill="#6a6a6a"/><rect x="3.50" y="5.9" width="0.6" height="5.9" fill="#6a6a6a"/><rect x="5.00" y="5.9" width="0.6" height="5.9" fill="#6a6a6a"/><rect x="6.50" y="5.9" width="0.6" height="5.9" fill="#6a6a6a"/><rect x="8.00" y="5.9" width="0.6" height="5.9" fill="#6a6a6a"/><rect x="9.50" y="5.9" width="0.6" height="5.9" fill="#6a6a6a"/><rect x="11.00" y="5.9" width="0.6" height="5.9" fill="#6a6a6a"/><rect x="12.50" y="5.9" width="0.6" height="5.9" fill="#6a6a6a"/><rect x="14.00" y="5.9" width="0.6" height="5.9" fill="#6a6a6a"/><rect x="15.50" y="5.9" width="0.6" height="5.9" fill="#6a6a6a"/></g><text transform="translate(548.0,292.6) rotate(4.5) scale(0.950,1)" font-size="11.5" font-weight="bold" fill="#fff">70gsm</text><polygon points="567.6,200.4 672.0,206.0 660.5,358.0 555.0,348.0" fill="#6e6369"/><polygon points="567.6,200.4 609.0,202.6 604.0,290.0 560.0,290.0" fill="url(#sheen)"/><polygon points="608.8,202.6 672.0,206.0 662.5,328.3 601.8,322.5" fill="#fff" stroke="#d9d9d9" stroke-width="0.6" stroke-dasharray="1.2 1"/><g transform="translate(586.2,220.0) rotate(3.0) scale(0.98)" opacity="0.62"><path d="M-4.6,-1.2 C-5.4,-4.5 -3.6,-8.6 -0.6,-9.6 C1.6,-9.2 3.2,-7.4 4.2,-5.6 L6.2,-3.6 L3.6,-2.6 C3.2,-1.2 2.2,-0.2 0.6,0 C-1.4,0.4 -3.4,0 -4.6,-1.2Z" fill="#ffffff"/><text x="0.3" y="4.4" font-size="5" font-weight="bold" text-anchor="middle" letter-spacing="0.3" fill="#ffffff">GENIUS</text><text x="0.3" y="8.4" font-size="4.3" font-weight="bold" text-anchor="middle" letter-spacing="0.2" fill="#ffffff">PAPER</text></g><text transform="translate(613.0,223.9) rotate(3.3)" font-size="15.0" font-weight="bold" fill="#2b2b2b" textLength="20.2" lengthAdjust="spacingAndGlyphs">A4</text><text transform="translate(612.2,234.4) rotate(3.3)" font-size="9.8" font-weight="normal" fill="#74797b" textLength="47.6" lengthAdjust="spacingAndGlyphs" stroke="#74797b" stroke-width="0.30">Duplicating</text><text transform="translate(611.7,246.7) rotate(3.3)" font-size="11.0" font-weight="normal" fill="#444" textLength="28.6" lengthAdjust="spacingAndGlyphs" stroke="#444" stroke-width="0.15">PAPER</text><circle cx="618.6" cy="258.0" r="5.6" fill="none" stroke="#6e6369" stroke-width="1.6" opacity="1.00"/><rect x="615.8" y="256.4" width="5.6" height="3.1" fill="#6e6369" opacity=".55"/><circle cx="618.0" cy="276.2" r="5.6" fill="none" stroke="#6e6369" stroke-width="1.6" opacity="1.00"/><rect x="615.2" y="274.6" width="5.6" height="3.1" fill="#6e6369" opacity=".55"/><circle cx="609.9" cy="293.6" r="1.1" fill="#444"/><rect x="613.5" y="293.3" width="21.0" height="0.8" fill="#999" transform="rotate(3 613.5 293.6)"/><circle cx="609.5" cy="301.6" r="1.1" fill="#444"/><rect x="613.1" y="301.3" width="18.0" height="0.8" fill="#999" transform="rotate(3 613.5 301.6)"/><circle cx="609.1" cy="309.6" r="1.1" fill="#444"/><rect x="612.7" y="309.3" width="21.0" height="0.8" fill="#999" transform="rotate(3 613.5 309.6)"/><circle cx="608.7" cy="317.2" r="1.1" fill="#444"/><rect x="612.3" y="316.9" width="18.0" height="0.8" fill="#999" transform="rotate(3 613.5 317.2)"/><circle cx="577.4" cy="315.0" r="4.4" fill="none" stroke="rgba(255,255,255,.5)" stroke-width="0.7" opacity="1.00"/><rect x="575.2" y="313.8" width="4.4" height="2.5" fill="rgba(255,255,255,.5)" opacity=".55"/><g transform="translate(567.6,324.0) rotate(4.5)"><rect x="0" y="0" width="19.5" height="14.5" fill="#f7f7f7"/><rect x="2.5" y="1.4" width="14.5" height="1.2" fill="#b5b5b5"/><rect x="2.00" y="6.1" width="0.6" height="6.1" fill="#6a6a6a"/><rect x="3.50" y="6.1" width="0.6" height="6.1" fill="#6a6a6a"/><rect x="5.00" y="6.1" width="0.6" height="6.1" fill="#6a6a6a"/><rect x="6.50" y="6.1" width="0.6" height="6.1" fill="#6a6a6a"/><rect x="8.00" y="6.1" width="0.6" height="6.1" fill="#6a6a6a"/><rect x="9.50" y="6.1" width="0.6" height="6.1" fill="#6a6a6a"/><rect x="11.00" y="6.1" width="0.6" height="6.1" fill="#6a6a6a"/><rect x="12.50" y="6.1" width="0.6" height="6.1" fill="#6a6a6a"/><rect x="14.00" y="6.1" width="0.6" height="6.1" fill="#6a6a6a"/><rect x="15.50" y="6.1" width="0.6" height="6.1" fill="#6a6a6a"/></g><text transform="translate(618.4,343.4) rotate(5.0) scale(0.970,1)" font-size="12.0" font-weight="bold" fill="#fff">70gsm</text></g><defs><linearGradient id="gold" gradientUnits="userSpaceOnUse" x1="0" y1="996" x2="0" y2="1028"><stop offset="0" stop-color="#f3b21b"/><stop offset="0.45" stop-color="#f8c93a"/><stop offset="1" stop-color="#fff3b8"/></linearGradient></defs><text paint-order="stroke" stroke-linejoin="round"><tspan x="574.5" y="1016.5" font-family="Liberation Serif, serif" font-size="53" textLength="36" lengthAdjust="spacingAndGlyphs" fill="#6cc8ec" stroke="#17364f" stroke-width="2.2">g</tspan><tspan x="602.5" y="1027" font-size="42" font-weight="bold" fill="url(#gold)" stroke="#3b2a12" stroke-width="2.4" letter-spacing="-2.3">enius</tspan></text></svg>
</body></html>
